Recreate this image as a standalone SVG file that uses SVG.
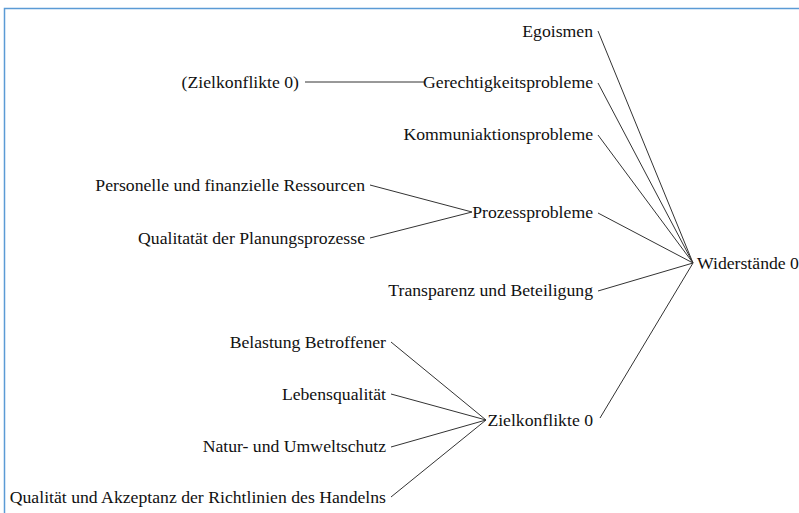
<svg xmlns="http://www.w3.org/2000/svg" width="799" height="513" viewBox="0 0 799 513">
<style>
text{font-family:"Liberation Serif","Times New Roman",serif;font-size:17.7px;fill:#111}
.r{text-anchor:end}
.c line{stroke:#333;stroke-width:1}
</style>
<rect x="0" y="0" width="799" height="513" fill="#fff"/>
<path d="M4.5 513 V8.5 H799" fill="none" stroke="#5b9bd5" stroke-width="1.5"/>
<g class="c" id="connectors">
<line x1="598" y1="31" x2="693" y2="263"/>
<line x1="598" y1="83" x2="693" y2="263"/>
<line x1="598" y1="135" x2="693" y2="263"/>
<line x1="598" y1="213" x2="693" y2="263"/>
<line x1="598" y1="291" x2="693" y2="263"/>
<line x1="600" y1="418" x2="693" y2="263"/>
<line x1="305" y1="82" x2="424" y2="82"/>
<line x1="370" y1="185" x2="472" y2="212"/>
<line x1="370" y1="238" x2="472" y2="212"/>
<line x1="391" y1="342" x2="486" y2="420"/>
<line x1="391" y1="394" x2="486" y2="420"/>
<line x1="391" y1="447" x2="486" y2="420"/>
<line x1="391" y1="497" x2="486" y2="420"/>
</g>
<g id="n-widerstaende"><text x="697" y="269">Widerstände 0</text></g>
<g id="n-egoismen"><text class="r" x="593" y="37">Egoismen</text></g>
<g id="n-gerecht"><text class="r" x="593" y="88">Gerechtigkeitsprobleme</text></g>
<g id="n-ziel-ref"><text class="r" x="299" y="88">(Zielkonflikte 0)</text></g>
<g id="n-kommunikation"><text class="r" x="593" y="140">Kommuniaktionsprobleme</text></g>
<g id="n-prozess"><text class="r" x="593" y="218">Prozessprobleme</text></g>
<g id="n-personelle"><text class="r" x="365" y="191">Personelle und finanzielle Ressourcen</text></g>
<g id="n-qualitataet"><text class="r" x="365" y="244">Qualitatät der Planungsprozesse</text></g>
<g id="n-transparenz"><text class="r" x="593" y="296">Transparenz und Beteiligung</text></g>
<g id="n-zielkonflikte"><text class="r" x="593" y="426">Zielkonflikte 0</text></g>
<g id="n-belastung"><text class="r" x="386" y="348">Belastung Betroffener</text></g>
<g id="n-lebensqualitaet"><text class="r" x="386" y="400">Lebensqualität</text></g>
<g id="n-natur"><text class="r" x="386" y="452">Natur- und Umweltschutz</text></g>
<g id="n-richtlinien"><text class="r" x="386" y="503">Qualität und Akzeptanz der Richtlinien des Handelns</text></g>
</svg>
